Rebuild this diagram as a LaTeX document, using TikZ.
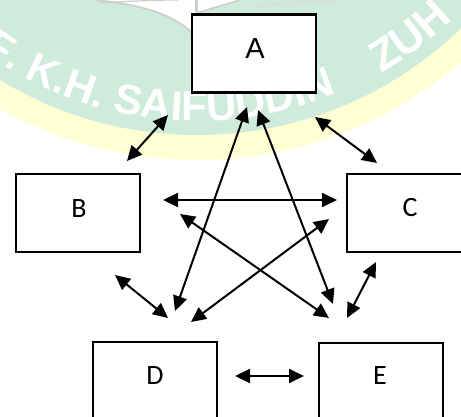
\documentclass[tikz,border=0pt]{standalone}
\usepackage{fontspec}
\setmainfont{Carlito}
\newfontfamily\arialfont{Liberation Sans}
\usetikzlibrary{arrows.meta,decorations.text}
\definecolor{sealgreen}{RGB}{206,235,220}
\definecolor{sealyellow}{RGB}{255,255,212}
\definecolor{bookgray}{RGB}{205,205,205}

\begin{document}
\begin{tikzpicture}[x=1pt,y=-1pt,
  box/.style={draw=black, line width=2.3pt, fill=white,
              minimum width=124pt, minimum height=78pt, inner sep=0pt},
  lbl/.style={font=\fontsize{28}{28}\selectfont, inner sep=0pt},
  link/.style={line width=2pt,
               {Triangle[length=15pt,width=14pt]}-{Triangle[length=15pt,width=14pt]}},
  sealtext/.style={decorate, decoration={text along path, text color=white,
               text align={left indent=0pt}}}
]
\useasboundingbox (0,0) rectangle (461,417);
\clip (0,0) rectangle (461,417);

% seal in the background
\coordinate (sealc) at (197,-245);
\fill[sealyellow] (sealc) circle[radius=405];
\fill[sealgreen] (sealc) circle[radius=380];
% open book at the top of the seal
\fill[white] (95,0) .. controls (140,4) and (175,15) .. (192,33)
  -- (197,33) -- (197,12) -- (240,0) -- cycle;
\draw[bookgray, line width=1.6pt] (95,0) .. controls (140,4) and (175,15) .. (192,33);
\draw[bookgray, line width=1.2pt] (100,3) .. controls (130,1) and (160,0) .. (178,0);
\draw[bookgray, line width=3pt] (196,0) -- (196,12);
\draw[bookgray, line width=1.6pt] (197,13) -- (240,0);
\draw[bookgray!70, line width=1.2pt] (250,8) .. controls (280,3) and (305,1) .. (335,1);
% seal lettering
\path[sealtext, decoration={
      text={|\arialfont\bfseries\fontsize{42}{42}\selectfont|F. K.H. SAIFUDDIN}}]
  (sealc) ++(126:366) arc[start angle=126, end angle=60, radius=366];
\path[sealtext, decoration={
      text={|\arialfont\bfseries\fontsize{44}{44}\selectfont|ZUH}}]
  (sealc) ++(60:368) arc[start angle=60, end angle=25, radius=368];

% boxes
\node[box, line width=2.6pt] (A) at (254,53.5) {};
\node[box] (B) at (78,213) {};
\node[box] (C) at (409,213) {};
\node[box] (D) at (155,381) {};
\node[box] (E) at (381,382) {};

% box labels
\node[lbl, font=\arialfont\fontsize{29}{29}\selectfont] (Atxt) at (255,49) {A};
\node[lbl] (Btxt) at (79,209) {B};
\node[lbl] (Ctxt) at (410,208) {C};
\node[lbl] (Dtxt) at (155,376) {D};
\node[lbl] (Etxt) at (380,376) {E};

% connector end points
\coordinate (ab1) at (168,115); \coordinate (ab2) at (127,161);
\coordinate (ac1) at (315,117); \coordinate (ac2) at (377,163);
\coordinate (ad1) at (247,107); \coordinate (ad2) at (175,311);
\coordinate (ae1) at (258,110); \coordinate (ae2) at (333,304);
\coordinate (bc1) at (163,200); \coordinate (bc2) at (337,200);
\coordinate (be1) at (180,214); \coordinate (be2) at (329,318);
\coordinate (cd1) at (329,219); \coordinate (cd2) at (191,322);
\coordinate (bd1) at (115,275); \coordinate (bd2) at (168,318);
\coordinate (ce1) at (376,262); \coordinate (ce2) at (347,318);
\coordinate (de1) at (235,376); \coordinate (de2) at (304,376);

% two-way links
\draw[link] (ab1) -- (ab2);
\draw[link] (ac1) -- (ac2);
\draw[link] (ad1) -- (ad2);
\draw[link] (ae1) -- (ae2);
\draw[link] (bc1) -- (bc2);
\draw[link] (be1) -- (be2);
\draw[link] (cd1) -- (cd2);
\draw[link] (bd1) -- (bd2);
\draw[link] (ce1) -- (ce2);
\draw[link] (de1) -- (de2);
\end{tikzpicture}
\end{document}
